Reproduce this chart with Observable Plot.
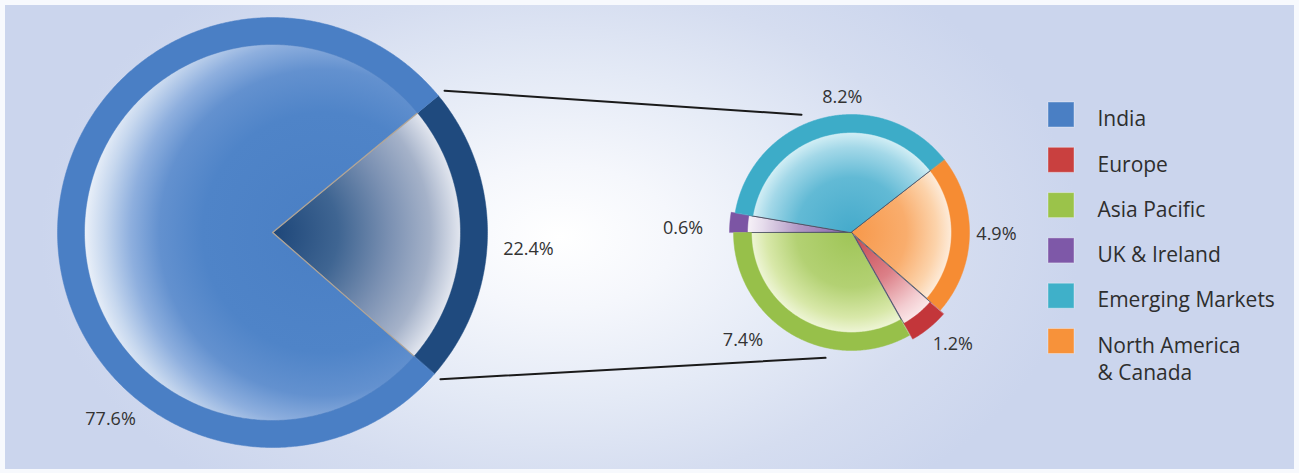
<!DOCTYPE html>
<html><head><meta charset="utf-8">
<script src="https://cdn.jsdelivr.net/npm/d3@7"></script>
<script src="https://cdn.jsdelivr.net/npm/@observablehq/plot@0.6"></script>
<style>
html,body{margin:0;padding:0;background:#fff;}
#wrap{position:relative;width:1299px;height:473px;overflow:hidden;background:#f7f9fd;}
#panel{position:absolute;left:5px;top:5px;width:1289px;height:464px;
  background:radial-gradient(ellipse 520px 330px at 555px 232px,#ffffff 0%,#f5f7fc 22%,#e4eaf6 50%,#d5ddf0 75%,#cbd5ed 100%);}
#chart{position:absolute;left:0;top:0;}
</style></head><body>
<div id="wrap"><div id="panel"></div><div id="chart"></div></div>
<script>
// ---- data ----
const mainCategories = ["International", "India"];
const mainValues = [22.4, 77.6];
const mainLabels = ["22.4%", "77.6%"];
const intlCategories = ["UK & Ireland", "Emerging Markets", "North America & Canada", "Europe", "Asia Pacific"];
const intlValues = [0.6, 8.2, 4.9, 1.2, 7.4];
const intlLabels = ["0.6%", "8.2%", "4.9%", "1.2%", "7.4%"];
const legendCategories = ["India", "Europe", "Asia Pacific", "UK & Ireland", "Emerging Markets", "North America\n& Canada"];

// ---- styles / layout ----
const W = 1299, H = 473;
const ringColor = {
  "India": "#4a7fc5", "International": "#1f4a7e", "UK & Ireland": "#7c55a4",
  "Emerging Markets": "#3dacc8", "North America & Canada": "#f68c33",
  "Europe": "#c3363a", "Asia Pacific": "#97c04a"
};
const legendColor = {
  "India": "#4a7fc4", "Europe": "#c9403f", "Asia Pacific": "#9bc34a", "UK & Ireland": "#7e58a8",
  "Emerging Markets": "#3fb0c9", "North America\n& Canada": "#f7923a"
};
const innerStops = {
  "India": [[0, "#4a7fc4"], [0.5, "#4f84c8"], [0.68, "#6391cf"], [0.8, "#8eafde"], [0.91, "#c6d7ee"], [1, "#eef3fa"]],
  "International": [[0, "#1d4679"], [0.35, "#3f6592"], [0.62, "#7a90b2"], [0.84, "#a5b2c9"], [1, "#e2e6ef"]],
  "UK & Ireland": [[0, "#8a68ad"], [0.5, "#b39ac6"], [0.85, "#e6dcec"], [1, "#f6f1f7"]],
  "Emerging Markets": [[0, "#45aacb"], [0.55, "#62bad5"], [0.85, "#a3d8e8"], [1, "#d2eef5"]],
  "North America & Canada": [[0, "#f7984a"], [0.55, "#f9ad6d"], [0.85, "#fcd3ab"], [1, "#fdebd9"]],
  "Europe": [[0, "#c64a52"], [0.5, "#dc8088"], [0.85, "#f3cdd1"], [1, "#fae6e8"]],
  "Asia Pacific": [[0, "#9fc557"], [0.55, "#b3d173"], [0.85, "#d8e8a9"], [1, "#eef5d6"]]
};
const big = {cx: 272, cy: 232, r: 215, ring: 27, start: 50.5, labelR: 250};
const small = {cx: 851, cy: 232, r: 118, ring: 18, start: -90, labelR: 140};
const explode = {"UK & Ireland": 4, "Europe": 5};
const labelNudge = {
  "International": [6, 13], "India": [88, 190],
  "UK & Ireland": [-29, 8], "Emerging Markets": [25, 1], "North America & Canada": [5, -2.5],
  "Europe": [13, 3], "Asia Pacific": [-38, -13]
};
const connectorSmallAngles = [-23, 191.7];
const legend = {x: 1048, top: 102, step: 45.3, size: 26, h: 25, textX: 1097, fontSize: 21, textOffset: 4.5};

const rad = Math.PI / 180;
function arcPts(cx, cy, r0, r1, a0, a1) {
  const n = Math.max(2, Math.ceil(Math.abs(a1 - a0) / (0.5 * rad)));
  const pts = [];
  for (let i = 0; i <= n; i++) { const a = a0 + (a1 - a0) * i / n; pts.push({x: cx + r1 * Math.sin(a), y: cy - r1 * Math.cos(a)}); }
  if (r0 > 0) { for (let i = n; i >= 0; i--) { const a = a0 + (a1 - a0) * i / n; pts.push({x: cx + r0 * Math.sin(a), y: cy - r0 * Math.cos(a)}); } }
  else pts.push({x: cx, y: cy});
  return pts;
}
function pieOf(values, startDeg) {
  return d3.pie().sort(null).value(d => d).startAngle(startDeg * rad).endAngle(startDeg * rad + 2 * Math.PI)(values);
}

const marks = [];
const grads = [];
const labels = [];
function addPie(cfg, cats, values, labs, strokeInner, strokeW) {
  const arcs = pieOf(values, cfg.start);
  arcs.forEach((a, i) => {
    const name = cats[i];
    const mid = (a.startAngle + a.endAngle) / 2;
    const e = explode[name] || 0;
    const cx = cfg.cx + e * Math.sin(mid), cy = cfg.cy - e * Math.cos(mid);
    const rIn = cfg.r - cfg.ring;
    const gid = "g" + grads.length;
    let gcx = cx, gcy = cy, gr = rIn;
    if (name === "India") { gcx = cx + 50; gr = 240; }
    grads.push({id: gid, cx: gcx, cy: gcy, r: gr, stops: innerStops[name]});
    marks.push(Plot.line(arcPts(cx, cy, 0, rIn + 1, a.startAngle, a.endAngle),
      {x: "x", y: "y", curve: "linear-closed", fill: `url(#${gid})`, stroke: strokeInner, strokeWidth: strokeW, strokeOpacity: 0.8}));
    marks.push(Plot.line(arcPts(cx, cy, rIn, cfg.r, a.startAngle, a.endAngle),
      {x: "x", y: "y", curve: "linear-closed", fill: ringColor[name], stroke: ringColor[name], strokeWidth: 0.5}));
    const nd = labelNudge[name] || [0, 0];
    labels.push({x: cfg.cx + cfg.labelR * Math.sin(mid) + nd[0], y: cfg.cy - cfg.labelR * Math.cos(mid) + nd[1], label: labs[i]});
  });
  return arcs;
}
const bigArcs = addPie(big, mainCategories, mainValues, mainLabels, "#b9a792", 1.2);
const smallArcs = addPie(small, intlCategories, intlValues, intlLabels, "#4a4f62", 1);

// connectors
const intl = bigArcs[0];
const connectors = [intl.startAngle, intl.endAngle].map((ang, i) => {
  const s = connectorSmallAngles[i] * rad, rb = big.r + 8, rs = small.r + 10;
  return [{x: big.cx + rb * Math.sin(ang), y: big.cy - rb * Math.cos(ang)},
          {x: small.cx + rs * Math.sin(s), y: small.cy - rs * Math.cos(s)}];
});
connectors.forEach(c => marks.push(Plot.line(c, {x: "x", y: "y", stroke: "#1a1a1a", strokeWidth: 2})));

marks.push(Plot.text(labels, {x: "x", y: "y", text: "label", fontSize: 18, fill: "#333", fontFamily: "Open Sans"}));

const legendRows = legendCategories.map((c, i) => ({
  name: c, color: legendColor[c],
  x1: legend.x, x2: legend.x + legend.size,
  y1: legend.top + i * legend.step, y2: legend.top + i * legend.step + legend.h,
  ty: legend.top + i * legend.step + legend.textOffset
}));
marks.push(Plot.rect(legendRows, {x1: "x1", x2: "x2", y1: "y1", y2: "y2", fill: "color", stroke: "#ffffff", strokeOpacity: 0.35, strokeWidth: 1}));
marks.push(Plot.text(legendRows, {x: () => legend.textX, y: "ty", text: "name", textAnchor: "start", lineAnchor: "top",
  lineHeight: 1.29, fontSize: legend.fontSize, fill: "#2e2e2e", fontFamily: "Open Sans"}));

const svg = Plot.plot({
  width: W, height: H, margin: 0,
  style: {background: "transparent", overflow: "visible"},
  x: {domain: [0, W], range: [0, W], axis: null},
  y: {domain: [0, H], range: [0, H], axis: null},
  color: {type: "identity"},
  marks
});
const defs = d3.select(svg).insert("defs", ":first-child");
grads.forEach(g => {
  const rg = defs.append("radialGradient").attr("id", g.id).attr("gradientUnits", "userSpaceOnUse")
    .attr("cx", g.cx).attr("cy", g.cy).attr("r", g.r);
  g.stops.forEach(([o, c]) => rg.append("stop").attr("offset", o).attr("stop-color", c));
});
document.getElementById("chart").appendChild(svg);
</script></body></html>
